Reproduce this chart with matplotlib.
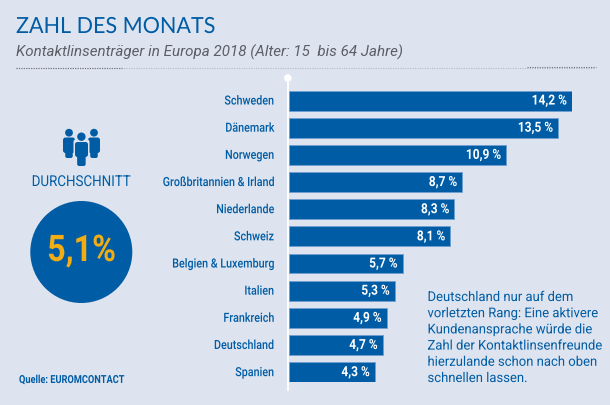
import matplotlib
matplotlib.use("Agg")
import matplotlib.pyplot as plt
from matplotlib.patches import Circle, FancyBboxPatch
from matplotlib.patheffects import AbstractPathEffect
from matplotlib.transforms import Affine2D

countries = ["Schweden", "Dänemark", "Norwegen", "Großbritannien & Irland", "Niederlande",
             "Schweiz", "Belgien & Luxemburg", "Italien", "Frankreich", "Deutschland", "Spanien"]
values = [14.2, 13.5, 10.9, 8.7, 8.3, 8.1, 5.7, 5.3, 4.9, 4.7, 4.3]
average_label = "5,1%"
title = "ZAHL DES MONATS"
subtitle = "Kontaktlinsenträger in Europa 2018 (Alter: 15  bis 64 Jahre)"
note = ("Deutschland nur auf dem\nvorletzten Rang: Eine aktivere\nKundenansprache würde die\n"
        "Zahl der Kontaktlinsenfreunde\nhierzulande schon nach oben\nschnellen lassen.")
source = "Quelle: EUROMCONTACT"

BG = '#dde4ef'
BLUE = '#005ca5'
W, H = 610, 406


class Squeeze(AbstractPathEffect):
    """Condense a text horizontally (no condensed family is installed)."""
    def __init__(self, sx, anchor='left', dy=0):
        super().__init__()
        self.sx, self.anchor, self.dy = sx, anchor, dy

    def draw_path(self, renderer, gc, tpath, affine, rgbFace=None):
        e = tpath.get_extents()
        px = {'left': 0, 'right': e.x1, 'center': (e.x0 + e.x1) / 2}[self.anchor]
        a = (Affine2D().translate(-px, 0).scale(self.sx, 1).translate(px, 0) + affine
             + Affine2D().translate(0, self.dy))
        renderer.draw_path(gc, tpath, a, rgbFace)


fig = plt.figure(figsize=(W/100, H/100), dpi=100, facecolor=BG)

# overlay in pixel coordinates for the layout furniture
ov = fig.add_axes([0, 0, 1, 1])
ov.set_xlim(0, W); ov.set_ylim(H, 0); ov.axis('off')

ov.text(16, 34, title, color=BLUE, fontsize=16, family='Lato', va='baseline', ha='left',
        path_effects=[Squeeze(0.97)])
ov.text(16.5, 57, subtitle, color='#5a5f66', fontsize=10.9, family='Roboto', style='italic', va='baseline')
ov.plot([16, 595], [68.5, 68.5], color='#b4bac4', lw=0.8, ls=(0, (1, 1.2)))
ov.plot([16, 122], [68.5, 68.5], color='#6d7278', lw=0.8, ls=(0, (1, 1.2)))
ov.plot([527, 596], [67.5, 67.5], color='#6d7278', lw=0.8, ls=(0, (1, 1.2)))


def person(cx, head_y, head_r, x0, x1, top, mid, leg_w, bottom, z):
    ov.add_patch(Circle((cx, head_y), head_r, fc=BLUE, ec='none', zorder=z))
    ov.add_patch(FancyBboxPatch((x0, top), x1 - x0, mid - top, boxstyle="round,pad=0,rounding_size=2.5",
                                fc=BLUE, ec='none', zorder=z))
    ov.add_patch(FancyBboxPatch((cx - leg_w/2, top + 2), leg_w, bottom - top - 2,
                                boxstyle="round,pad=0,rounding_size=2", fc=BLUE, ec='none', zorder=z))


person(69, 133.7, 3.9, 63, 75, 138.5, 154, 7.5, 159, 2)
person(94, 133.7, 3.9, 88, 100, 138.5, 154, 7.5, 159, 2)
ov.add_patch(FancyBboxPatch((73.5, 140), 16, 30, boxstyle="round,pad=0,rounding_size=3", fc=BG, ec='none', zorder=2.5))
person(81.4, 137.7, 4.2, 75, 88, 143, 158, 8.5, 167, 3)

ov.text(81, 183, "DURCHSCHNITT", color=BLUE, fontsize=10.8, family='Roboto', ha='center', va='center',
        path_effects=[Squeeze(0.89, 'center')])
ov.add_patch(Circle((81.3, 253), 51, fc=BLUE, ec='none'))
ov.text(81.5, 252, average_label, color='#f2ad14', fontsize=26.4, family='Roboto', weight='bold',
        ha='center', va='center', path_effects=[Squeeze(0.88, 'center')])
ov.text(19, 381, source, color=BLUE, fontsize=8, family='Roboto', weight='bold', ha='left', va='center',
        path_effects=[Squeeze(0.83)])
ov.text(427.5, 339, note, color=BLUE, fontsize=9.7, family='Roboto', ha='left', va='center',
        linespacing=1.32, path_effects=[Squeeze(0.97)])

# white axis line and dot
ov.plot([287.8, 287.8], [79, 392], color='white', lw=1.3, solid_capstyle='butt')
ov.add_patch(Circle((287.8, 79), 3.8, fc='white', ec='none'))

# bar chart: 1 unit = 283/14.2 px, rows 27.2 px apart
x0, x1 = 289, 572
y_top, y_bot = 91.5, 383.2
ax = fig.add_axes([x0/W, 1 - y_bot/H, (x1-x0)/W, (y_bot-y_top)/H], facecolor='none')
ypos = list(range(len(countries)))
ax.barh(ypos, values, height=0.735, color=BLUE, edgecolor='#6fa0cf', linewidth=0.6)
ax.set_xlim(0, 14.2)
ax.set_ylim(len(countries) - 1 + 0.37, -0.37)
ax.set_yticks(ypos, countries)
ax.set_xticks([])
ax.tick_params(axis='y', length=0, pad=10.8)
sq_lab = Squeeze(0.85, 'right', dy=1)
for lab in ax.get_yticklabels():
    lab.set(color=BLUE, fontsize=9.1, family='Roboto', weight='medium', path_effects=[sq_lab])
for s in ax.spines.values():
    s.set_visible(False)
for i, v in enumerate(values):
    ax.annotate(f"{v:.1f} %".replace('.', ','), (v, i), xytext=(-5, 0), textcoords='offset pixels',
                ha='right', va='center', color='white', fontsize=10, family='Roboto', weight='bold',
                path_effects=[Squeeze(0.86, 'right')])
ax.patch.set_alpha(0)
fig.savefig('out.png', dpi=100, facecolor=BG)
